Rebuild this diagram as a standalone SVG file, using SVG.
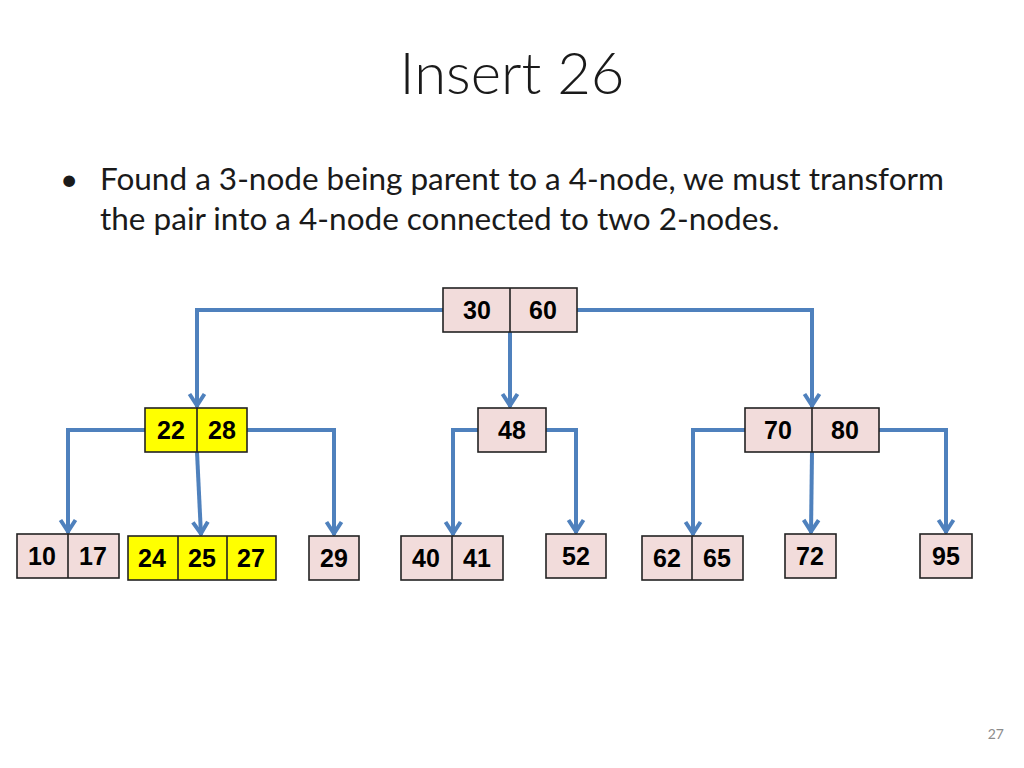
<svg xmlns="http://www.w3.org/2000/svg" width="1024" height="768" viewBox="0 0 1024 768">
<style>
.bg{fill:#fff}
.n{fill:#F2DCDB;stroke:#222;stroke-width:1.6}
.y{fill:#FFFF00;stroke:#222;stroke-width:1.6}
.d{stroke:#222;stroke-width:1.6}
.t{font-family:"Liberation Sans",Arial,sans-serif;font-weight:bold;font-size:25px;fill:#000;text-anchor:middle}
.c{fill:none;stroke:#4F81BD;stroke-width:4;stroke-linejoin:miter}
.title{font-family:Lato,"Liberation Sans",sans-serif;font-weight:300;font-size:58px;fill:#1a1a1a;text-anchor:middle}
.body{font-family:Lato,"Liberation Sans",sans-serif;font-size:31.5px;fill:#1a1a1a}
.pg{font-family:Lato,"Liberation Sans",sans-serif;font-size:14px;fill:#8c8c8c}
</style>
<defs>
<marker id="ah" markerUnits="userSpaceOnUse" viewBox="-16 -12 18 24" refX="0" refY="0" markerWidth="18" markerHeight="24" orient="auto">
<path d="M-13,-7.5 L-1.5,0 L-13,7.5" fill="none" stroke="#4F81BD" stroke-width="4"/>
</marker>
</defs>
<rect class="bg" width="1024" height="768"/>
<g id="title"><text class="title" x="512" y="94">Insert 26</text></g>
<g id="bullet">
<text class="body" x="60" y="190">•</text>
<text class="body" x="100" y="190">Found a 3-node being parent to a 4-node, we must transform</text>
<text class="body" x="100" y="230">the pair into a 4-node connected to two 2-nodes.</text>
</g>
<g id="connectors">
<path class="c" d="M443,310 H197 V407" marker-end="url(#ah)"/>
<path class="c" d="M510,332 V407" marker-end="url(#ah)"/>
<path class="c" d="M577,310 H812 V407" marker-end="url(#ah)"/>
<path class="c" d="M145,430 H68 V533" marker-end="url(#ah)"/>
<path class="c" d="M197,452 L201,535" marker-end="url(#ah)"/>
<path class="c" d="M247,430 H334 V535" marker-end="url(#ah)"/>
<path class="c" d="M478,430 H453 V535" marker-end="url(#ah)"/>
<path class="c" d="M546,430 H576 V533" marker-end="url(#ah)"/>
<path class="c" d="M745,430 H693 V535" marker-end="url(#ah)"/>
<path class="c" d="M812,452 L811,533" marker-end="url(#ah)"/>
<path class="c" d="M879,430 H946 V533" marker-end="url(#ah)"/>
</g>
<g id="n3060">
<rect class="n" x="443" y="288" width="134" height="44"/>
<line class="d" x1="510" y1="288" x2="510" y2="332"/>
<text class="t" x="477" y="319">30</text><text class="t" x="543" y="319">60</text>
</g>
<g id="n2228">
<rect class="y" x="145" y="408" width="102" height="44"/>
<line class="d" x1="197" y1="408" x2="197" y2="452"/>
<text class="t" x="171" y="439">22</text><text class="t" x="222" y="439">28</text>
</g>
<g id="n48">
<rect class="n" x="478" y="408" width="68" height="44"/>
<text class="t" x="512" y="439">48</text>
</g>
<g id="n7080">
<rect class="n" x="745" y="408" width="134" height="44"/>
<line class="d" x1="812" y1="408" x2="812" y2="452"/>
<text class="t" x="778" y="439">70</text><text class="t" x="845" y="439">80</text>
</g>
<g id="n1017">
<rect class="n" x="17" y="534" width="102" height="44"/>
<line class="d" x1="68" y1="534" x2="68" y2="578"/>
<text class="t" x="42" y="565">10</text><text class="t" x="93" y="565">17</text>
</g>
<g id="n242527">
<rect class="y" x="128" y="536" width="148" height="44"/>
<line class="d" x1="178" y1="536" x2="178" y2="580"/>
<line class="d" x1="227" y1="536" x2="227" y2="580"/>
<text class="t" x="152" y="567">24</text><text class="t" x="202" y="567">25</text><text class="t" x="251" y="567">27</text>
</g>
<g id="n29">
<rect class="n" x="309" y="536" width="50" height="44"/>
<text class="t" x="334" y="567">29</text>
</g>
<g id="n4041">
<rect class="n" x="401" y="536" width="102" height="44"/>
<line class="d" x1="452" y1="536" x2="452" y2="580"/>
<text class="t" x="426" y="567">40</text><text class="t" x="477" y="567">41</text>
</g>
<g id="n52">
<rect class="n" x="546" y="534" width="60" height="44"/>
<text class="t" x="576" y="565">52</text>
</g>
<g id="n6265">
<rect class="n" x="642" y="536" width="101" height="44"/>
<line class="d" x1="692" y1="536" x2="692" y2="580"/>
<text class="t" x="667" y="567">62</text><text class="t" x="717" y="567">65</text>
</g>
<g id="n72">
<rect class="n" x="785" y="534" width="51" height="44"/>
<text class="t" x="810" y="565">72</text>
</g>
<g id="n95">
<rect class="n" x="920" y="534" width="52" height="44"/>
<text class="t" x="946" y="565">95</text>
</g>
<g id="page"><text class="pg" x="1004" y="739" text-anchor="end">27</text></g>
</svg>
